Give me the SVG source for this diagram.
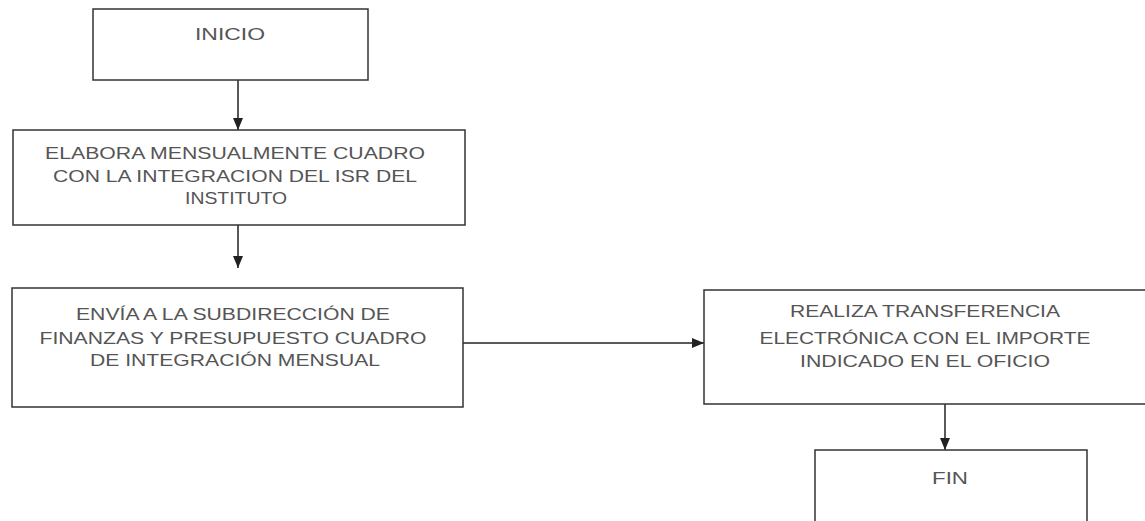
<svg xmlns="http://www.w3.org/2000/svg" width="1145" height="521" viewBox="0 0 1145 521">
<defs>
<marker id="ah" markerWidth="12" markerHeight="10" refX="12" refY="5" orient="auto" markerUnits="userSpaceOnUse">
<path d="M0,0 L12,5 L0,10 Z" fill="#222"/>
</marker>
<style>
.box{fill:#fff;stroke:#333;stroke-width:1.5}
.t{font-family:"Liberation Sans",Arial,sans-serif;font-size:17px;fill:#555;text-anchor:middle}
.c{stroke:#222;stroke-width:1.5;fill:none}
</style>
</defs>
<rect width="1145" height="521" fill="#fff"/>
<g id="connectors">
<line class="c" x1="238" y1="80" x2="238" y2="130" marker-end="url(#ah)"/>
<line class="c" x1="238" y1="225" x2="238" y2="268" marker-end="url(#ah)"/>
<line class="c" x1="463" y1="343" x2="704" y2="343" marker-end="url(#ah)"/>
<line class="c" x1="945" y1="404" x2="945" y2="450" marker-end="url(#ah)"/>
</g>
<g id="inicio">
<rect class="box" x="93" y="9" width="275" height="71"/>
<text class="t" x="230" y="40" textLength="70" lengthAdjust="spacingAndGlyphs">INICIO</text>
</g>
<g id="elabora">
<rect class="box" x="13" y="130" width="452" height="95"/>
<text class="t" x="235" y="159" textLength="380" lengthAdjust="spacingAndGlyphs">ELABORA MENSUALMENTE CUADRO</text>
<text class="t" x="235" y="182" textLength="364" lengthAdjust="spacingAndGlyphs">CON LA INTEGRACION DEL ISR DEL</text>
<text class="t" x="236" y="204" textLength="102" lengthAdjust="spacingAndGlyphs">INSTITUTO</text>
</g>
<g id="envia">
<rect class="box" x="12" y="288" width="451" height="119"/>
<text class="t" x="233" y="320" textLength="314" lengthAdjust="spacingAndGlyphs">ENVÍA A LA SUBDIRECCIÓN DE</text>
<text class="t" x="233" y="344" textLength="387" lengthAdjust="spacingAndGlyphs">FINANZAS Y PRESUPUESTO CUADRO</text>
<text class="t" x="235" y="366" textLength="290" lengthAdjust="spacingAndGlyphs">DE INTEGRACIÓN MENSUAL</text>
</g>
<g id="realiza">
<rect class="box" x="704" y="290" width="450" height="114"/>
<text class="t" x="925" y="317" textLength="270" lengthAdjust="spacingAndGlyphs">REALIZA TRANSFERENCIA</text>
<text class="t" x="925" y="344" textLength="331" lengthAdjust="spacingAndGlyphs">ELECTRÓNICA CON EL IMPORTE</text>
<text class="t" x="925" y="367" textLength="250" lengthAdjust="spacingAndGlyphs">INDICADO EN EL OFICIO</text>
</g>
<g id="fin">
<rect class="box" x="815" y="450" width="272" height="90"/>
<text class="t" x="950" y="484" textLength="36" lengthAdjust="spacingAndGlyphs">FIN</text>
</g>
</svg>
